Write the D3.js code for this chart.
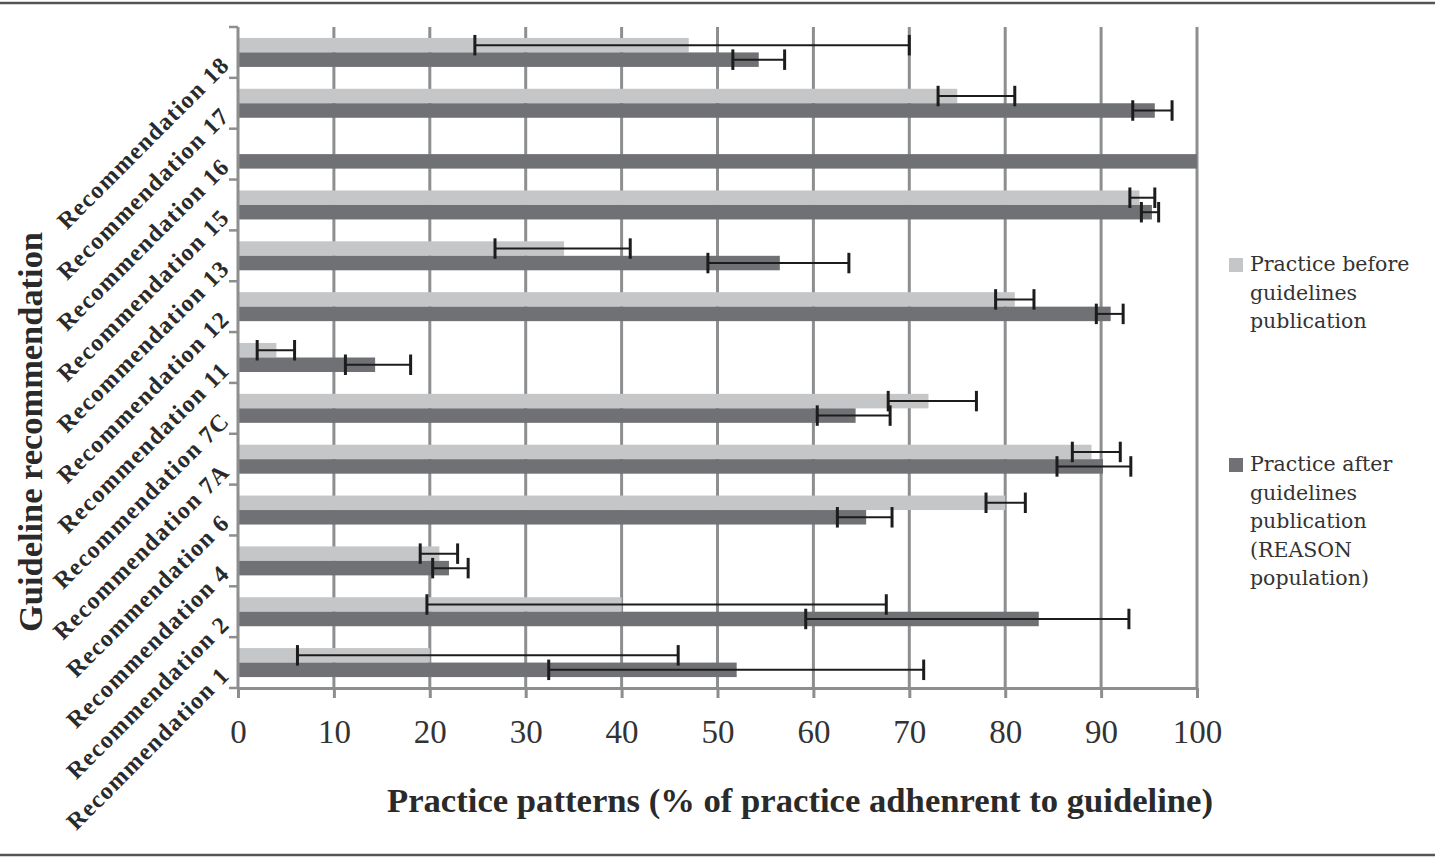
<!DOCTYPE html>
<html>
<head>
<meta charset="utf-8">
<script src="https://cdn.jsdelivr.net/npm/d3@7"></script>
<style>
  html, body { margin: 0; padding: 0; background: #fff; }
  svg { display: block; }
</style>
</head>
<body>
<svg id="chart"></svg>
<script>
// categories, bottom to top as in the source
const categories = ['Recommendation 1', 'Recommendation 2', 'Recommendation 4', 'Recommendation 6',
  'Recommendation 7A', 'Recommendation 7C', 'Recommendation 11', 'Recommendation 12',
  'Recommendation 13', 'Recommendation 15', 'Recommendation 16', 'Recommendation 17', 'Recommendation 18'];

// practice before guidelines publication
const before     = [20, 40, 21, 80, 89, 72, 4, 81, 34, 94, 0, 75, 47];
const beforeLow  = [6.2, 19.7, 19, 78, 87, 67.8, 2, 79, 26.8, 93, null, 73, 24.7];
const beforeHigh = [45.9, 67.6, 22.9, 82.1, 92, 77, 5.9, 83, 40.9, 95.6, null, 81, 70];

// practice after guidelines publication (REASON population)
const after     = [52, 83.5, 22, 65.5, 90.2, 64.4, 14.3, 91, 56.5, 95.3, 100, 95.6, 54.3];
const afterLow  = [32.4, 59.2, 20.3, 62.5, 85.4, 60.4, 11.2, 89.5, 49, 94.2, null, 93.3, 51.6];
const afterHigh = [71.5, 92.9, 24, 68.2, 93.1, 68, 18, 92.3, 63.7, 96, null, 97.4, 57];

const xTicks = [0, 10, 20, 30, 40, 50, 60, 70, 80, 90, 100];

const W = 1435, H = 858;
const plot = { left: 238, right: 1197, top: 27, bottom: 688 };
const colors = { before: '#c5c6c8', after: '#707174' };

const svg = d3.select('#chart').attr('width', W).attr('height', H);

// frame lines top and bottom
svg.append('line').attr('x1', 0).attr('x2', W).attr('y1', 3).attr('y2', 3)
  .attr('stroke', '#555').attr('stroke-width', 2.5);
svg.append('line').attr('x1', 0).attr('x2', W).attr('y1', 855).attr('y2', 855)
  .attr('stroke', '#555').attr('stroke-width', 2.5);

const x = d3.scaleLinear().domain([0, 100]).range([plot.left, plot.right]);

const y = d3.scaleBand()
  .domain(categories.slice().reverse())
  .range([plot.top, plot.bottom])
  .paddingInner(0.43)
  .paddingOuter(0.215);

const ySub = d3.scaleBand().domain(['before', 'after']).range([0, y.bandwidth()]);

const rows = categories.map((c, i) => ({
  cat: c,
  before: before[i], beforeLow: beforeLow[i], beforeHigh: beforeHigh[i],
  after: after[i], afterLow: afterLow[i], afterHigh: afterHigh[i]
}));

// vertical gridlines
svg.append('g')
  .selectAll('line')
  .data(xTicks.filter(t => t > 0))
  .enter().append('line')
  .attr('x1', d => x(d)).attr('x2', d => x(d))
  .attr('y1', plot.top).attr('y2', plot.bottom)
  .attr('stroke', '#8d8e90').attr('stroke-width', 3);

// bars
const g = svg.append('g');
['before', 'after'].forEach(key => {
  g.selectAll('.bar-' + key)
    .data(rows)
    .enter().append('rect')
    .attr('class', 'bar-' + key)
    .attr('x', x(0))
    .attr('y', d => y(d.cat) + ySub(key))
    .attr('width', d => x(d[key]) - x(0))
    .attr('height', ySub.bandwidth())
    .attr('fill', colors[key]);
});

// error bars
const capH = ySub.bandwidth() + 6;
['before', 'after'].forEach(key => {
  const e = g.selectAll('.err-' + key)
    .data(rows.filter(d => d[key + 'Low'] != null))
    .enter().append('g')
    .attr('transform', d => 'translate(0,' + (y(d.cat) + ySub(key) + ySub.bandwidth() / 2) + ')');
  e.append('line')
    .attr('x1', d => x(d[key + 'Low'])).attr('x2', d => x(d[key + 'High']))
    .attr('y1', 0).attr('y2', 0)
    .attr('stroke', '#1c1c1c').attr('stroke-width', 2);
  e.append('line')
    .attr('x1', d => x(d[key + 'Low'])).attr('x2', d => x(d[key + 'Low']))
    .attr('y1', -capH / 2).attr('y2', capH / 2)
    .attr('stroke', '#1c1c1c').attr('stroke-width', 3);
  e.append('line')
    .attr('x1', d => x(d[key + 'High'])).attr('x2', d => x(d[key + 'High']))
    .attr('y1', -capH / 2).attr('y2', capH / 2)
    .attr('stroke', '#1c1c1c').attr('stroke-width', 3);
});

// x axis
const xAxis = svg.append('g')
  .attr('transform', 'translate(0,' + plot.bottom + ')')
  .call(d3.axisBottom(x).tickValues(xTicks).tickSize(10).tickPadding(22).tickSizeOuter(0));
xAxis.select('.domain').attr('stroke', '#8d8e90').attr('stroke-width', 3);
xAxis.selectAll('.tick line').attr('stroke', '#8d8e90').attr('stroke-width', 3);
xAxis.selectAll('.tick text')
  .attr('font-family', 'Liberation Serif, serif')
  .attr('font-size', 33)
  .attr('fill', '#333');

// y axis: line with ticks at band boundaries
svg.append('line')
  .attr('x1', plot.left).attr('x2', plot.left)
  .attr('y1', plot.top).attr('y2', plot.bottom)
  .attr('stroke', '#8d8e90').attr('stroke-width', 3);
const step = y.step();
svg.append('g').selectAll('line')
  .data(d3.range(categories.length + 1))
  .enter().append('line')
  .attr('x1', plot.left - 9).attr('x2', plot.left)
  .attr('y1', i => plot.top + i * step).attr('y2', i => plot.top + i * step)
  .attr('stroke', '#8d8e90').attr('stroke-width', 2.5);

// rotated category labels
svg.append('g').selectAll('text')
  .data(categories)
  .enter().append('text')
  .attr('transform', d => 'translate(231,' + (y(d) + y.bandwidth() / 2 + 14) + ') rotate(-45)')
  .attr('text-anchor', 'end')
  .attr('font-family', 'Liberation Serif, serif')
  .attr('font-weight', 'bold')
  .attr('font-size', 24)
  .attr('letter-spacing', 1.3)
  .attr('fill', '#2a2a2a')
  .text(d => d);

// axis titles
svg.append('text')
  .attr('x', 800).attr('y', 812)
  .attr('text-anchor', 'middle')
  .attr('font-family', 'Liberation Serif, serif')
  .attr('font-weight', 'bold')
  .attr('font-size', 33)
  .attr('textLength', 826)
  .attr('lengthAdjust', 'spacingAndGlyphs')
  .attr('fill', '#2a2a2a')
  .text('Practice patterns (% of practice adhenrent to guideline)');

svg.append('text')
  .attr('transform', 'translate(42,432) rotate(-90)')
  .attr('text-anchor', 'middle')
  .attr('font-family', 'Liberation Serif, serif')
  .attr('font-weight', 'bold')
  .attr('font-size', 33)
  .attr('textLength', 400)
  .attr('lengthAdjust', 'spacingAndGlyphs')
  .attr('fill', '#2a2a2a')
  .text('Guideline recommendation');

// legend
const legendItems = [
  { key: 'before', lines: ['Practice before', 'guidelines', 'publication'], top: 258 },
  { key: 'after', lines: ['Practice after', 'guidelines', 'publication', '(REASON', 'population)'], top: 458 }
];
const lg = svg.append('g').selectAll('g')
  .data(legendItems)
  .enter().append('g')
  .attr('transform', d => 'translate(1229,' + d.top + ')');
lg.append('rect')
  .attr('width', 14).attr('height', 14)
  .attr('fill', d => colors[d.key]);
lg.each(function (d) {
  d3.select(this).selectAll('text')
    .data(d.lines)
    .enter().append('text')
    .attr('x', 21)
    .attr('y', (t, i) => 13 + i * 28.5)
    .attr('font-family', 'DejaVu Serif, serif')
    .attr('font-size', 20.5)
    .attr('fill', '#333')
    .text(t => t);
});
</script>
</body>
</html>
